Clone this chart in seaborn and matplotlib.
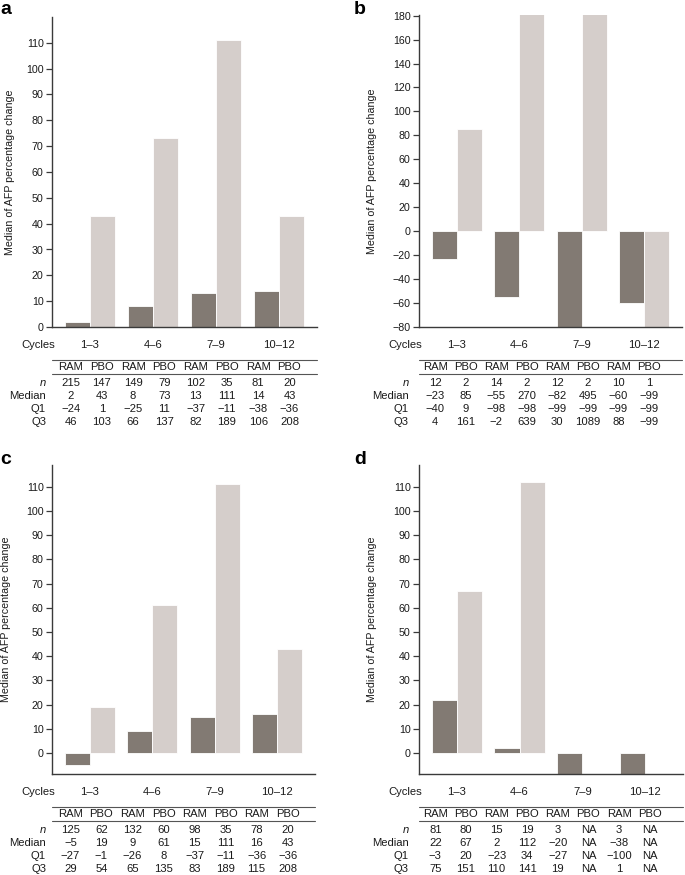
import numpy as np
import pandas as pd
import matplotlib
matplotlib.use("Agg")
import matplotlib.pyplot as plt
import matplotlib.transforms as mtransforms
from matplotlib.lines import Line2D
import seaborn as sns

# ---------------- data ----------------
cycles = ["1–3", "4–6", "7–9", "10–12"]
arms = ["RAM", "PBO"]

# panel a
a_n_ram = [215, 149, 102, 81]
a_n_pbo = [147, 79, 35, 20]
a_med_ram = [2, 8, 13, 14]
a_med_pbo = [43, 73, 111, 43]
a_q1_ram = [-24, -25, -37, -38]
a_q1_pbo = [1, 11, -11, -36]
a_q3_ram = [46, 66, 82, 106]
a_q3_pbo = [103, 137, 189, 208]

# panel b
b_n_ram = [12, 14, 12, 10]
b_n_pbo = [2, 2, 2, 1]
b_med_ram = [-23, -55, -82, -60]
b_med_pbo = [85, 270, 495, -99]
b_q1_ram = [-40, -98, -99, -99]
b_q1_pbo = [9, -98, -99, -99]
b_q3_ram = [4, -2, 30, 88]
b_q3_pbo = [161, 639, 1089, -99]

# panel c
c_n_ram = [125, 132, 98, 78]
c_n_pbo = [62, 60, 35, 20]
c_med_ram = [-5, 9, 15, 16]
c_med_pbo = [19, 61, 111, 43]
c_q1_ram = [-27, -26, -37, -36]
c_q1_pbo = [-1, 8, -11, -36]
c_q3_ram = [29, 65, 83, 115]
c_q3_pbo = [54, 135, 189, 208]

# panel d (None = NA)
d_n_ram = [81, 15, 3, 3]
d_n_pbo = [80, 19, None, None]
d_med_ram = [22, 2, -20, -38]
d_med_pbo = [67, 112, None, None]
d_q1_ram = [-3, -23, -27, -100]
d_q1_pbo = [20, 34, None, None]
d_q3_ram = [75, 110, 19, 1]
d_q3_pbo = [151, 141, None, None]

# y ticks per panel
a_yticks = list(range(0, 120, 10))
b_yticks = list(range(-80, 200, 20))
c_yticks = list(range(0, 120, 10))
d_yticks = list(range(0, 120, 10))

# ---------------- style ----------------
sns.set_theme(style="white")
plt.rcParams["font.family"] = ["Liberation Sans", "DejaVu Sans"]
FS = 8.1
FS_TICK = 7.7
TXT = "#1a1a1a"
SPINE = "#3a3a3a"
RAM_C = "#857a70"
PBO_C = "#d6cdca"

W, H = 685, 875
fig = plt.figure(figsize=(W / 100, H / 100), dpi=100)
fig.patch.set_facecolor("white")


def fx(px):
    return px / W


def fy(py):
    return 1 - py / H


def fmt(v):
    if v is None:
        return "NA"
    return ("−" + str(-v)) if v < 0 else str(v)


def panel(box, letter, letter_xy, ram, pbo, ylim, yticks, ylab_x, table, col0, colstep, rowlab_dx):
    l, r, t, b = box
    ax = fig.add_axes([fx(l), fy(b), fx(r) - fx(l), (b - t) / H])
    df = pd.DataFrame({
        "cycle": cycles * 2,
        "arm": ["RAM"] * 4 + ["PBO"] * 4,
        "value": [np.nan if v is None else v for v in list(ram) + list(pbo)],
    })
    sns.barplot(data=df, x="cycle", y="value", hue="arm", order=cycles,
                hue_order=arms, palette={"RAM": RAM_C, "PBO": PBO_C},
                errorbar=None, width=0.8, edgecolor="white", linewidth=0.6,
                legend=False, ax=ax)
    ax.set_xlim(-0.6, 3.6)
    ax.set_ylim(*ylim)
    ax.set_yticks(yticks)
    ax.set_yticklabels([fmt(v) for v in yticks])
    ax.set_xticks([])
    ax.set_xlabel("")
    ax.set_ylabel("Median of AFP percentage change", fontsize=FS_TICK, color=TXT)
    ax.yaxis.set_label_coords(ylab_x, 0.5)
    for s in ["top", "right"]:
        ax.spines[s].set_visible(False)
    for s in ["left", "bottom"]:
        ax.spines[s].set_color(SPINE)
        ax.spines[s].set_linewidth(1.0)
    ax.tick_params(axis="y", direction="out", length=4, width=0.9, color=SPINE,
                   labelsize=FS_TICK, labelcolor=TXT, pad=2, left=True)
    ax.set_facecolor("white")
    ax.grid(False)

    fig.text(fx(letter_xy[0]), fy(letter_xy[1]), letter, fontsize=14,
             fontweight="bold", ha="left", va="top", color="black")

    # table under the axes
    tr = mtransforms.blended_transform_factory(ax.transData, fig.transFigure)
    fig.text(fx(l + 3), fy(b + 18), "Cycles", ha="right", va="center",
             fontsize=FS, color=TXT)
    for i, c in enumerate(cycles):
        ax.text(i, fy(b + 18), c, transform=tr, ha="center", va="center",
                fontsize=FS, color=TXT, clip_on=False)
    for off in (33, 47):
        fig.add_artist(Line2D([fx(l), fx(r)], [fy(b + off)] * 2,
                              color="#555555", lw=0.8))
    colx = [l + (r - l) * (col0 + j * colstep) for j in range(8)]
    for j in range(8):
        fig.text(fx(colx[j]), fy(b + 40), arms[j % 2], ha="center",
                 va="center", fontsize=FS, color=TXT)
    row_names = ["n", "Median", "Q1", "Q3"]
    row_off = [56, 69, 82, 95]
    for name, off, (vr, vp) in zip(row_names, row_off, table):
        fig.text(fx(l - rowlab_dx), fy(b + off), name, ha="right",
                 va="center", fontsize=FS, color=TXT,
                 style="italic" if name == "n" else "normal")
        vals = []
        for k in range(4):
            vals += [vr[k], vp[k]]
        for j, v in enumerate(vals):
            fig.text(fx(colx[j]), fy(b + off), fmt(v), ha="center",
                     va="center", fontsize=FS, color=TXT)
    return ax


panel((52, 317, 17, 327), "a", (0, 1), a_med_ram, a_med_pbo, (0, 120),
      a_yticks, -0.14,
      [(a_n_ram, a_n_pbo), (a_med_ram, a_med_pbo), (a_q1_ram, a_q1_pbo),
       (a_q3_ram, a_q3_pbo)], 0.07, 0.118, 6)

panel((419, 682, 15, 327), "b", (354, 1), b_med_ram, b_med_pbo, (-80, 180.5),
      b_yticks, -0.16,
      [(b_n_ram, b_n_pbo), (b_med_ram, b_med_pbo), (b_q1_ram, b_q1_pbo),
       (b_q3_ram, b_q3_pbo)], 0.062, 0.116, 10)

panel((52, 315, 465, 774), "c", (0, 451), c_med_ram, c_med_pbo, (-8.7, 119),
      c_yticks, -0.155,
      [(c_n_ram, c_n_pbo), (c_med_ram, c_med_pbo), (c_q1_ram, c_q1_pbo),
       (c_q3_ram, c_q3_pbo)], 0.07, 0.118, 6)

panel((419, 683, 465, 774), "d", (354, 451), d_med_ram, d_med_pbo, (-8.7, 119),
      d_yticks, -0.16,
      [(d_n_ram, d_n_pbo), (d_med_ram, d_med_pbo), (d_q1_ram, d_q1_pbo),
       (d_q3_ram, d_q3_pbo)], 0.062, 0.116, 10)

fig.savefig("out.png", dpi=100, facecolor="white")
